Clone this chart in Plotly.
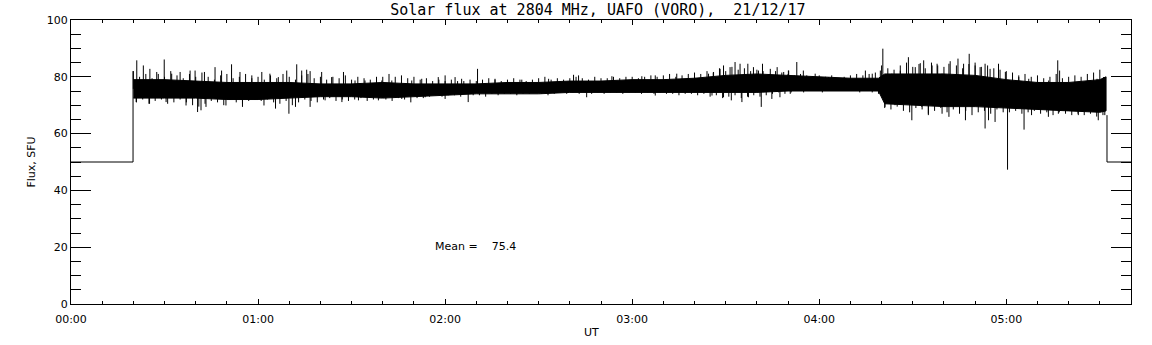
import numpy as np
import plotly.graph_objects as go

# ---- data (time in minutes after 00:00 UT, flux in SFU) ----
tick_minutes = [0, 60, 120, 180, 240, 300]
tick_labels = ["00:00", "01:00", "02:00", "03:00", "04:00", "05:00"]

fill_value = 50.0
obs_start = 19.9
obs_end = 332.3
x_end = 340.0

# dense core of the noisy record (upper / lower edge)
core_t = [20, 30, 40, 50, 60, 70, 80, 90, 100, 110, 120, 130, 140, 150, 160,
          170, 180, 190, 200, 210, 220, 230, 240, 250, 259, 261, 270, 280,
          290, 300, 310, 320, 330, 332]
core_hi = [79, 79, 78.5, 78, 78, 78, 77.5, 77.5, 78, 77.5, 77.5, 77.5, 78, 78,
           78.5, 78.5, 79, 79, 79.5, 80.5, 81, 80.5, 80, 79.5, 79.5, 81, 81,
           81, 80.5, 79, 78, 78, 79, 80]
core_lo = [72.5, 72.5, 72.5, 72, 72, 72.5, 73, 73, 72.5, 73, 73.5, 74, 74, 74,
           74.5, 74.5, 74.5, 74.5, 74.5, 74.5, 74.5, 75, 75, 75, 75, 70.5, 70,
           69.5, 69.5, 69, 68.5, 68, 67.5, 68]

# ragged fringe: per 2-minute bin, typical high / low reading
fringe_t = list(range(20, 332, 2))
fringe_hi = [82, 80, 81, 79.5, 81, 80, 82, 80.5, 79.5, 81, 80, 81.5, 80, 79, 80.5, 81, 79.5, 80, 81, 79.5,
             80, 79, 80.5, 79.5, 81, 80, 79, 80.5, 81, 79.5, 80, 79, 80, 79.5, 80.5, 79, 80, 79.5, 79, 80,
             80, 81, 80, 80.5, 79.5, 80, 79, 79.5, 78.5, 79, 78.5, 79, 78.5, 78.5, 79, 78.5, 79, 79.5, 79, 78.5,
             79, 79.5, 79, 78.5, 79, 79.5, 80, 79, 79.5, 79, 79.5, 80, 79.5, 79, 80, 79.5, 79.5, 80, 79.5, 80,
             80, 79.5, 80, 80.5, 80, 80.5, 81, 80, 80.5, 81, 81.5, 81, 82, 81.5, 83, 82, 83.5, 82.5, 83, 82,
             82.5, 82, 81, 82, 81.5, 81, 80.5, 81, 80.5, 80, 80.5, 80, 80.5, 79.5, 80, 80.5, 81, 80.5, 81, 81.5,
             84, 83, 82.5, 84, 85, 83.5, 84.5, 83, 85, 84, 83.5, 85.5, 84, 83, 84.5, 85, 83.5, 84, 83, 82.5,
             82, 81.5, 80.5, 81, 80, 80.5, 79.5, 80, 81, 79.5, 80, 80.5, 80, 81, 81.5, 82.5]
fringe_lo = [71, 72, 70.5, 71.5, 72, 70.5, 71, 72, 71, 70, 69.5, 70.5, 71.5, 71, 70, 72, 71, 70.5, 71.5, 72,
             71.5, 72, 71, 70.5, 71.5, 70, 71, 72, 71.5, 71, 72, 72.5, 71.5, 72, 71.5, 72, 72.5, 71.5, 72, 72.5,
             72, 71.5, 72.5, 72, 71, 72.5, 72.5, 73, 73.5, 73, 73.5, 73.5, 73, 74, 73.5, 73.5, 73, 74, 73.5, 74,
             74, 73.5, 74, 74, 74.5, 74, 73.5, 74, 74.5, 74, 74.5, 74, 74.5, 74, 74.5, 74, 74.5, 74.5, 74, 74.5,
             74.5, 74, 74.5, 74, 74.5, 74, 74, 73.5, 74, 74, 73.5, 74, 73, 73.5, 72.5, 73, 73.5, 72.5, 73, 73.5,
             73, 73.5, 74, 74.5, 74, 74.5, 75, 74.5, 75, 75, 74.5, 75, 75, 75.5, 75, 75, 74.5, 75, 74.5, 74,
             69, 68.5, 69.5, 68, 67.5, 69, 68.5, 67, 68, 69, 67.5, 68.5, 67, 68, 66.5, 67.5, 68, 67, 68.5, 67.5,
             67.5, 68, 67, 67.5, 68, 67, 67.5, 66.5, 67.5, 67, 66.5, 67, 66.5, 67, 66, 66.5]

# upward spikes
up_t = [21.1, 23.2, 25.3, 27.5, 29.9, 32.3, 35.0, 38.2, 39.8, 42.8, 46.2, 48.3,
        51.5, 54.2, 58.0, 61.2, 63.8, 66.5, 69.2, 72.4, 74.0, 75.6, 76.7, 80.4,
        83.6, 87.4, 91.1, 94.3, 99.7, 102.9, 109.3, 112.5, 117.8, 120.0, 123.2,
        125.3, 130.4, 136.0, 144.6, 153.2, 161.2, 162.8, 173.5, 183.1, 187.4,
        194.3, 200.2, 204.5, 206.1, 208.2, 209.3, 211.4, 213.0, 214.6, 217.1,
        218.9, 220.5, 221.8, 224.3, 226.5, 228.6, 230.2,
        230.1, 232.8, 234.9, 238.7, 243.0, 254.8, 257.0, 259.6, 260.4, 263.3,
        266.0, 268.6, 270.8, 272.4, 273.5, 276.2, 277.8, 279.4, 281.6, 284.5,
        286.3, 288.1, 290.0, 291.6, 293.2, 294.8, 297.5, 299.7, 304.0, 307.2,
        310.4, 313.6, 316.5, 317.1, 321.1, 323.2, 326.4, 329.1, 331.2]
up_v = [85.8, 84.0, 82.8, 81.7, 86.1, 81.1, 81.7, 82.2, 82.2, 81.7, 83.4, 82.2,
        84.4, 81.7, 80.5, 81.7, 81.1, 79.9, 82.2, 84.4, 82.2, 82.5, 82.0, 81.7,
        79.9, 81.7, 78.7, 78.7, 78.7, 78.7, 78.7, 79.3, 79.9, 80.5, 79.9,
        79.3, 82.8, 79.3, 79.0, 79.3, 80.7, 80.5, 80.2, 80.2, 80.5,
        81.1, 79.6, 81.1, 81.7, 82.8, 84.0, 83.4, 85.2, 84.6, 84.6,
        83.4, 82.2, 84.6, 82.8, 83.4, 81.7, 82.2,
        82.2, 85.2, 82.2, 81.1, 79.9, 82.2, 81.1, 82.2, 89.9, 81.1,
        82.2, 86.9, 83.4, 84.8, 85.8, 84.0, 84.6, 81.1, 84.6, 86.4,
        84.6, 88.1, 84.0, 83.4, 84.6, 82.8, 84.6, 81.7, 79.9, 79.3,
        78.1, 78.7, 85.8, 82.2, 77.5, 78.1, 78.7, 79.3, 79.9]

# downward spikes
dn_t = [20.9, 25.2, 30.5, 36.9, 40.6, 41.7, 43.3, 49.7, 55.0, 61.9, 65.6, 69.9,
        72.0, 76.7, 81.5, 86.9, 92.2, 98.6, 106.1, 113.6, 120.0,
        127.4, 165.4, 187.4, 205.6, 209.3, 211.8, 215.2, 217.3, 221.4, 224.8,
        227.4,
        230.7, 261.1, 264.3, 269.7, 272.9, 275.0, 279.4, 281.6, 286.9, 293.2,
        294.3, 296.4, 300.4, 305.7, 308.1, 313.5, 316.7, 323.1, 329.5, 331.6]
dn_v = [71.1, 70.5, 71.1, 69.9, 67.6, 68.2, 69.4, 69.9, 69.4, 69.9, 68.8, 67.0,
        69.4, 69.4, 71.7, 71.1, 71.7, 71.7, 72.2, 72.8, 72.2,
        71.1, 72.8, 73.4, 73.4, 72.8, 71.7, 71.1, 72.8, 69.4, 72.2,
        72.8,
        74.0, 69.4, 70.0, 64.7, 69.4, 66.5, 67.0, 65.9, 64.7, 61.8,
        64.7, 64.1, 47.3, 61.4, 66.5, 65.9, 67.0, 66.5, 64.7, 66.5]

mean_text = "Mean =    75.4"
title_text = "Solar flux at 2804 MHz, UAFO (VORO),  21/12/17"

# ---- figure ----
FONT = "DejaVu Sans"
LINE = dict(color="black", width=1)
fig = go.Figure()

# filler level before / after the observation window (step lines)
fig.add_trace(go.Scatter(x=[0, obs_start, obs_start], y=[fill_value, fill_value, fringe_hi[0]],
                         mode="lines", line=LINE, hoverinfo="skip"))
fig.add_trace(go.Scatter(x=[obs_end, obs_end, x_end], y=[fringe_lo[-1], fill_value, fill_value],
                         mode="lines", line=LINE, hoverinfo="skip"))

# dense core band
poly_x = list(core_t) + list(core_t[::-1])
poly_y = list(core_hi) + list(core_lo[::-1])
fig.add_trace(go.Scatter(x=poly_x, y=poly_y, mode="lines", fill="toself",
                         fillcolor="black", line=LINE, hoverinfo="skip"))

center = (np.array(core_hi) + np.array(core_lo)) / 2.0

# ragged fringe and spikes, all drawn as vertical strokes from the core centre
sx, sy = [], []
for t, h, l in zip(fringe_t, fringe_hi, fringe_lo):
    c0 = float(np.interp(t, core_t, center))
    c1 = float(np.interp(t + 1, core_t, center))
    sx += [t, t, None, t + 1, t + 1, None]
    sy += [c0, h, None, c1, l, None]
for t, v in zip(up_t + dn_t, up_v + dn_v):
    base = float(np.interp(t, core_t, center))
    sx += [t, t, None]
    sy += [base, v, None]
fig.add_trace(go.Scatter(x=sx, y=sy, mode="lines", line=LINE, hoverinfo="skip"))

fig.add_annotation(x=116, y=20.4, xref="x", yref="y", text=mean_text, showarrow=False,
                   xanchor="left", yanchor="middle", font=dict(family=FONT, size=11, color="black"))
fig.add_annotation(x=(591 - 71) / 1060.0, y=-(332 - 304) / 284.0, xref="paper", yref="paper",
                   text="UT", showarrow=False, xanchor="center", yanchor="middle",
                   font=dict(family=FONT, size=11, color="black"))

fig.update_layout(
    width=1152, height=345,
    margin=dict(l=71, r=21, t=20, b=41),
    paper_bgcolor="white", plot_bgcolor="white",
    showlegend=False,
    title=dict(text=title_text, x=0.519, xanchor="center", y=0.971, yanchor="middle",
               font=dict(family="DejaVu Sans Mono", size=15, color="black")),
    font=dict(family=FONT, size=11, color="black"),
)

fig.update_xaxes(range=[0, x_end], tickvals=tick_minutes, ticktext=tick_labels,
                 showgrid=False, zeroline=False, showline=True, linecolor="black", linewidth=1,
                 mirror="ticks", ticks="inside", ticklen=5, tickcolor="black", tickwidth=1,
                 ticklabelstandoff=5, automargin=False,
                 minor=dict(dtick=10, tick0=0, ticks="inside", ticklen=3, tickcolor="black",
                            tickwidth=1, showgrid=False),
                 tickfont=dict(family=FONT, size=11, color="black"))
fig.update_yaxes(range=[0, 100], tickvals=[0, 20, 40, 60, 80, 100],
                 showgrid=False, zeroline=False, showline=True, linecolor="black", linewidth=1,
                 mirror="ticks", ticks="inside", ticklen=20, tickcolor="black", tickwidth=1,
                 automargin=False,
                 minor=dict(dtick=5, tick0=0, ticks="inside", ticklen=10, tickcolor="black",
                            tickwidth=1, showgrid=False),
                 title=dict(text="Flux, SFU", font=dict(family=FONT, size=11, color="black"),
                            standoff=8),
                 tickfont=dict(family=FONT, size=11, color="black"))

fig.write_html("out.html", config={"displayModeBar": False},
               post_script="document.body.style.margin='0px';")
